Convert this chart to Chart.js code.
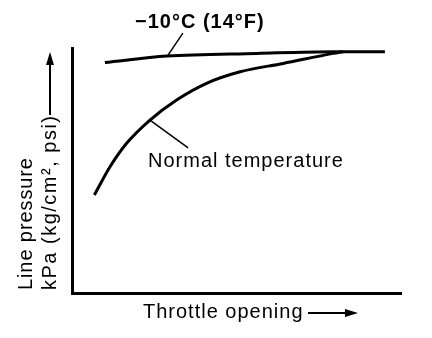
<!DOCTYPE html>
<html>
<head>
<meta charset="utf-8">
<script src="https://cdn.jsdelivr.net/npm/chart.js@4.4.1/dist/chart.umd.min.js"></script>
<style>
  html, body { margin: 0; padding: 0; background: #fff; }
  #wrap { width: 432px; height: 338px; }
</style>
</head>
<body>
<div id="wrap"><canvas id="pressureChart" width="432" height="338"></canvas></div>
<script>
// Kurvendaten (Drosselklappenöffnung in %, Leitungsdruck in % des Maximums)
const coldX = [10.0, 28.9, 56.2, 79.3, 95.1];
const coldY = [94.1, 96.7, 97.8, 98.5, 98.5];
const normalX = [6.8, 11.6, 16.6, 23.7, 31.8, 40.9, 51.1, 64.2, 79.4, 82.4];
const normalY = [40.0, 51.6, 61.1, 70.6, 78.8, 85.6, 90.3, 93.7, 97.8, 98.5];
const seriesLabels = ["−10°C (14°F)", "Normal temperature"];

const FONT = "'Liberation Sans', Arial, Helvetica, sans-serif";

function toPoints(xs, ys) {
  return xs.map((x, i) => ({ x: x, y: ys[i] }));
}

// Pfeilspitze zeichnen
function arrowHead(ctx, x, y, dir) {
  ctx.beginPath();
  if (dir === "up") {
    ctx.moveTo(x, y);
    ctx.lineTo(x - 4, y + 13);
    ctx.lineTo(x + 4, y + 13);
  } else {
    ctx.moveTo(x, y);
    ctx.lineTo(x - 13, y - 4);
    ctx.lineTo(x - 13, y + 4);
  }
  ctx.closePath();
  ctx.fill();
}

// Beschriftungen, Hinweislinien und Achsenpfeile
const annotations = {
  id: "annotations",
  afterDraw(chart) {
    const { ctx, scales: { x, y } } = chart;
    ctx.save();
    ctx.fillStyle = "#000";
    ctx.strokeStyle = "#000";

    // Hinweislinien
    ctx.lineWidth = 1.5;
    ctx.beginPath();
    ctx.moveTo(x.getPixelForValue(33.7), y.getPixelForValue(106.1));
    ctx.lineTo(x.getPixelForValue(29.2), y.getPixelForValue(97.1));
    ctx.moveTo(x.getPixelForValue(23.7), y.getPixelForValue(70.6));
    ctx.lineTo(x.getPixelForValue(35.3), y.getPixelForValue(59.2));
    ctx.stroke();

    // Kurvenbeschriftungen
    ctx.textBaseline = "middle";
    ctx.textAlign = "left";
    ctx.letterSpacing = "1px";
    ctx.font = "bold 20px " + FONT;
    ctx.fillText(seriesLabels[0], 135, 22);
    ctx.font = "20px " + FONT;
    ctx.fillText(seriesLabels[1], 148, 161);

    // x-Achsentitel
    ctx.fillText("Throttle opening", 143, 312);
    ctx.lineWidth = 2;
    ctx.beginPath();
    ctx.moveTo(308, 313);
    ctx.lineTo(348, 313);
    ctx.stroke();
    arrowHead(ctx, 358, 313, "right");

    // y-Achsentitel (gedreht)
    ctx.save();
    ctx.letterSpacing = "0.9px";
    ctx.translate(26, 290);
    ctx.rotate(-Math.PI / 2);
    ctx.fillText("Line pressure", 0, 0);
    ctx.restore();
    ctx.save();
    ctx.letterSpacing = "1.5px";
    ctx.translate(50, 290);
    ctx.rotate(-Math.PI / 2);
    ctx.fillText("kPa (kg/cm², psi)", 0, 0);
    ctx.restore();
    ctx.beginPath();
    ctx.moveTo(50, 115);
    ctx.lineTo(50, 62);
    ctx.stroke();
    arrowHead(ctx, 50, 52, "up");

    ctx.restore();
  }
};

new Chart(document.getElementById("pressureChart"), {
  type: "line",
  data: {
    datasets: [
      {
        label: seriesLabels[0],
        data: toPoints(coldX, coldY),
        borderColor: "#000",
        borderWidth: 3,
        pointRadius: 0,
        cubicInterpolationMode: "monotone"
      },
      {
        label: seriesLabels[1],
        data: toPoints(normalX, normalY),
        borderColor: "#000",
        borderWidth: 3,
        pointRadius: 0,
        cubicInterpolationMode: "monotone"
      }
    ]
  },
  options: {
    responsive: false,
    animation: false,
    devicePixelRatio: 1,
    layout: { padding: { left: 72, top: 48, right: 31, bottom: 45 } },
    plugins: {
      legend: { display: false },
      tooltip: { enabled: false }
    },
    scales: {
      x: {
        type: "linear",
        min: 0,
        max: 100,
        ticks: { display: false, padding: 0 },
        grid: { display: false, drawTicks: false },
        border: { display: true, color: "#000", width: 3 }
      },
      y: {
        type: "linear",
        min: 0,
        max: 100,
        ticks: { display: false, padding: 0 },
        grid: { display: false, drawTicks: false },
        border: { display: true, color: "#000", width: 3 }
      }
    }
  },
  plugins: [annotations]
});
</script>
</body>
</html>
